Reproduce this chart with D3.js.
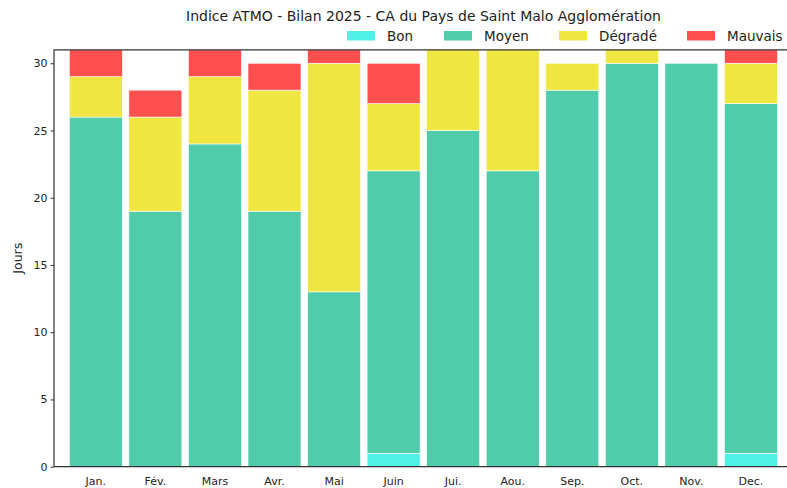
<!DOCTYPE html>
<html lang="fr">
<head>
<meta charset="utf-8" />
<title>Indice ATMO - Bilan 2025</title>
<script src="https://cdn.jsdelivr.net/npm/d3@7"></script>
<style>
  body { margin: 0; background: #fff; }
  text { font-family: "DejaVu Sans", sans-serif; fill: #222; }
</style>
</head>
<body>
<script>
// Jours par mois et par classe d'indice
var mois = ["Jan.", "Fév.", "Mars", "Avr.", "Mai", "Juin", "Jui.", "Aou.", "Sep.", "Oct.", "Nov.", "Dec."];
var classes = ["Bon", "Moyen", "Dégradé", "Mauvais"];
var couleurs = ["#50f0e6", "#50ccaa", "#f0e641", "#ff5050"];

var bon     = [0, 0, 0, 0, 0, 1, 0, 0, 0, 0, 0, 1];
var moyen   = [26, 19, 24, 19, 13, 21, 25, 22, 28, 30, 30, 26];
var degrade = [3, 7, 5, 9, 17, 5, 6, 9, 2, 1, 0, 3];
var mauvais = [2, 2, 2, 2, 1, 3, 0, 0, 0, 0, 0, 1];

var yTicks = [0, 5, 10, 15, 20, 25, 30];

var width = 787, height = 488;
var margin = { top: 49.8, left: 54, bottom: 466.7 };

// table built from the arrays above for d3.stack
var table = mois.map(function(m, i) {
  return { mois: m, "Bon": bon[i], "Moyen": moyen[i], "Dégradé": degrade[i], "Mauvais": mauvais[i] };
});

var svg = d3.select("body").append("svg")
    .attr("width", width)
    .attr("height", height);

var step = 59.56;
var x = d3.scaleBand()
    .domain(mois)
    .range([margin.left, margin.left + step * 12.404])
    .paddingInner(0.11)
    .paddingOuter(0.257);

var y = d3.scaleLinear()
    .domain([0, 31])
    .range([margin.bottom, margin.top]);

var color = d3.scaleOrdinal().domain(classes).range(couleurs);

var series = d3.stack().keys(classes)(table);

svg.append("clipPath").attr("id", "plot")
  .append("rect")
    .attr("x", margin.left).attr("y", margin.top)
    .attr("width", x.range()[1] - margin.left)
    .attr("height", margin.bottom - margin.top);

var bars = svg.append("g").attr("clip-path", "url(#plot)");

bars.selectAll("g")
  .data(series)
  .enter().append("g")
    .attr("fill", function(d) { return color(d.key); })
  .selectAll("rect")
  .data(function(d) { return d.filter(function(p) { return p[1] > p[0]; }); })
  .enter().append("rect")
    .attr("x", function(d) { return x(d.data.mois); })
    .attr("width", x.bandwidth())
    .attr("y", function(d) { return y(d[1]); })
    .attr("height", function(d) { return y(d[0]) - y(d[1]); })
    .attr("stroke", "#fff")
    .attr("stroke-width", 0.6);

// axes (no tick marks on x in the original)
var xAxis = svg.append("g")
    .attr("transform", "translate(0," + margin.bottom + ")")
    .call(d3.axisBottom(x).tickSizeOuter(0).tickSize(0).tickPadding(7.5));

var yAxis = svg.append("g")
    .attr("transform", "translate(" + margin.left + ",0)")
    .call(d3.axisLeft(y).tickValues(yTicks).tickSizeOuter(0).tickSize(3.5).tickPadding(3));

[xAxis, yAxis].forEach(function(a) {
  a.select(".domain").remove();
  a.selectAll("line").attr("stroke", "#333");
  a.selectAll("text").attr("font-size", "11px").attr("fill", "#222")
    .style("font-family", "'DejaVu Sans', sans-serif");
});
xAxis.selectAll("text").attr("dy", "0.95em");

// spines: left, bottom, top
svg.append("path")
    .attr("d", "M" + x.range()[1] + "," + margin.top + "H" + margin.left +
               "V" + margin.bottom + "H" + x.range()[1])
    .attr("fill", "none")
    .attr("stroke", "#333")
    .attr("stroke-width", 1.2);

svg.append("text")
    .attr("transform", "translate(22," + ((margin.top + margin.bottom) / 2) + ") rotate(-90)")
    .attr("text-anchor", "middle")
    .attr("font-size", "12.5px")
    .text("Jours");

svg.append("text")
    .attr("x", 423.5)
    .attr("y", 21)
    .attr("text-anchor", "middle")
    .attr("font-size", "14px")
    .text("Indice ATMO - Bilan 2025 - CA du Pays de Saint Malo Agglomération");

// legend
var legendX = [347, 444, 559, 687];
var leg = svg.append("g").selectAll("g")
  .data(classes)
  .enter().append("g")
    .attr("transform", function(d, i) { return "translate(" + legendX[i] + ",0)"; });

leg.append("rect")
    .attr("y", 31)
    .attr("width", 28)
    .attr("height", 9.5)
    .attr("fill", function(d) { return color(d); });

leg.append("text")
    .attr("x", 40)
    .attr("y", 40.5)
    .attr("font-size", "13.5px")
    .text(function(d) { return d; });
</script>
</body>
</html>
